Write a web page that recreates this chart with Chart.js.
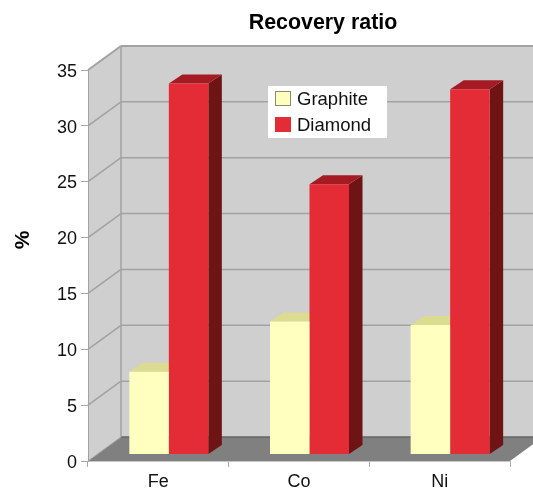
<!DOCTYPE html>
<html lang="en">
<head>
  <meta charset="UTF-8">
  <title>Recovery ratio</title>
  <script src="https://cdn.jsdelivr.net/npm/chart.js"></script>
  <style>
    body { margin: 0; background: #fff; }
    canvas { display: block; }
  </style>
</head>
<body>
  <canvas id="myChart" width="533" height="488"></canvas>
  <script>
    const categories = ['Fe', 'Co', 'Ni'];
    const graphite = [7.4, 11.9, 11.6];
    const diamond = [33.2, 24.2, 32.7];
    const yTicks = [0, 5, 10, 15, 20, 25, 30, 35];

    const FONT = '"Liberation Sans", Arial, sans-serif';
    const WALL = { dx: 33, dy: -24 };      // how far the back wall sits behind the front plane
    const BAR_SHIFT = { dx: 10.5, dy: -6.5 }; // bars stand a bit inside the floor
    const BAR_DEPTH = { dx: 13.5, dy: -9 };

    function poly(ctx, points, fill) {
      ctx.beginPath();
      points.forEach((p, i) => i ? ctx.lineTo(p[0], p[1]) : ctx.moveTo(p[0], p[1]));
      ctx.closePath();
      ctx.fillStyle = fill;
      ctx.fill();
    }

    function line(ctx, x1, y1, x2, y2, color, width) {
      ctx.beginPath();
      ctx.moveTo(x1, y1);
      ctx.lineTo(x2, y2);
      ctx.strokeStyle = color;
      ctx.lineWidth = width;
      ctx.stroke();
    }

    // walls, floor and gridlines behind everything
    const walls = {
      id: 'walls',
      beforeDraw(chart) {
        const { ctx, chartArea: a, scales: { y } } = chart;
        const bx = a.left + WALL.dx, tx = a.right + WALL.dx;
        const by = a.bottom + WALL.dy, ty = a.top + WALL.dy;
        ctx.save();
        poly(ctx, [[bx, ty], [tx, ty], [tx, by], [bx, by]], '#cfcfcf');
        poly(ctx, [[a.left, a.top], [bx, ty], [bx, by], [a.left, a.bottom]], '#cfcfcf');
        poly(ctx, [[a.left, a.bottom], [a.right, a.bottom], [tx, by], [bx, by]], '#808080');
        line(ctx, bx, by, tx, by, '#666666', 1.5);
        yTicks.forEach(v => {
          if (v === 0) return;
          const py = y.getPixelForValue(v);
          const width = v === 35 ? 2 : 1.5;
          line(ctx, a.left, py, bx, py + WALL.dy, '#a2a2a2', width);
          line(ctx, bx, py + WALL.dy, tx, py + WALL.dy, '#a2a2a2', width);
        });
        line(ctx, a.left, a.bottom, bx, by, '#a2a2a2', 1);
        line(ctx, bx, ty, bx, by, '#a2a2a2', 1.5);
        ctx.restore();
      }
    };

    // top and right faces, then the library draws the fronts on top
    const bars3d = {
      id: 'bars3d',
      beforeDatasetsDraw(chart) {
        const { ctx } = chart;
        ctx.save();
        ctx.translate(BAR_SHIFT.dx, BAR_SHIFT.dy);
        chart.data.datasets.forEach((ds, i) => {
          chart.getDatasetMeta(i).data.forEach(bar => {
            const l = bar.x - bar.width / 2, r = bar.x + bar.width / 2;
            const d = BAR_DEPTH;
            poly(ctx, [[r, bar.y], [r + d.dx, bar.y + d.dy], [r + d.dx, bar.base + d.dy], [r, bar.base]], ds.sideColor);
            poly(ctx, [[l, bar.y], [l + d.dx, bar.y + d.dy], [r + d.dx, bar.y + d.dy], [r, bar.y]], ds.topColor);
          });
        });
      },
      afterDatasetsDraw(chart) {
        chart.ctx.restore();
      }
    };

    // title, % label and the legend box sit off-centre, so placed here
    const labels = {
      id: 'labels',
      afterDraw(chart) {
        const { ctx } = chart;
        ctx.save();
        ctx.fillStyle = '#000';
        ctx.textBaseline = 'middle';
        ctx.textAlign = 'center';
        ctx.font = 'bold 21.4px ' + FONT;
        ctx.fillText('Recovery ratio', 323, 23.5);

        ctx.save();
        ctx.translate(23, 240);
        ctx.rotate(-Math.PI / 2);
        ctx.font = 'bold 21px ' + FONT;
        ctx.fillText('%', 0, 0);
        ctx.restore();

        ctx.fillStyle = '#fff';
        ctx.fillRect(268, 86, 119, 52);
        ctx.textAlign = 'left';
        ctx.font = '18.5px ' + FONT;
        chart.data.datasets.forEach((ds, i) => {
          const y = 99 + i * 26;
          ctx.fillStyle = ds.backgroundColor;
          ctx.fillRect(275, y - 8, 16, 15);
          if (i === 0) {
            ctx.strokeStyle = '#8a8a70';
            ctx.lineWidth = 1;
            ctx.strokeRect(275.5, y - 7.5, 15, 14);
          }
          ctx.fillStyle = '#111';
          ctx.fillText(ds.label, 297, y + 0.5);
        });
        ctx.restore();
      }
    };

    new Chart(document.getElementById('myChart').getContext('2d'), {
      type: 'bar',
      data: {
        labels: categories,
        datasets: [
          { label: 'Graphite', data: graphite, backgroundColor: '#ffffc0', topColor: '#dcdc90', sideColor: '#8f8f60', clip: false },
          { label: 'Diamond', data: diamond, backgroundColor: '#e32c36', topColor: '#a51b23', sideColor: '#6e1414', clip: false }
        ]
      },
      plugins: [walls, bars3d, labels],
      options: {
        responsive: false,
        animation: false,
        layout: { padding: { top: 70, right: 23, left: 0, bottom: 0 } },
        datasets: { bar: { barPercentage: 1, categoryPercentage: 0.5616 } },
        plugins: { legend: { display: false }, title: { display: false }, tooltip: { enabled: false } },
        scales: {
          x: {
            afterFit(scale) { scale.height = 27; },
            grid: { drawOnChartArea: false, color: '#a8a8a8', tickLength: 6 },
            border: { color: '#c8c8c8' },
            ticks: { color: '#111', font: { family: FONT, size: 18 }, padding: 4, maxRotation: 0 }
          },
          y: {
            min: 0,
            max: 35,
            afterFit(scale) { scale.width = 88; },
            afterBuildTicks(scale) { scale.ticks = yTicks.map(v => ({ value: v })); },
            grid: { drawOnChartArea: false, color: '#a8a8a8', tickLength: 7 },
            border: { color: '#a2a2a2' },
            ticks: {
              color: '#111',
              font: { family: FONT, size: 18, lineHeight: 0.2 }, // blank first line nudges the number just under its tick
              padding: 4,
              callback: v => ['', String(v)]
            }
          }
        }
      }
    });
  </script>
</body>
</html>
